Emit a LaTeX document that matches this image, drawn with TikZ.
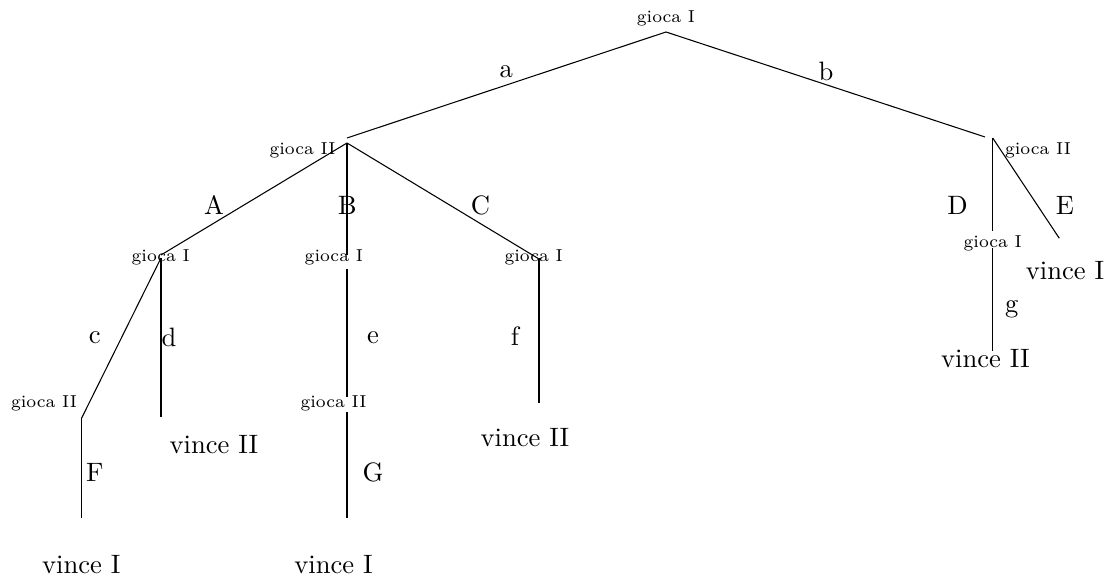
\documentclass[tikz,border=0pt]{standalone}
\begin{document}
\begin{tikzpicture}[x=0.376pt,y=-0.376pt,
  edge/.style={draw=black,line width=0.4pt},
  lab/.style={inner sep=0pt,anchor=base,font=\normalsize},
  pl/.style={inner sep=0pt,anchor=base,font=\fontsize{6.5}{8}\selectfont}]
\useasboundingbox (0,0) rectangle (1108,579);
% vertices
\coordinate (r) at (666,32);
\coordinate (aE) at (347,138);
\coordinate (bE) at (985,137);
\coordinate (n2) at (347,143);
\coordinate (nR) at (992.7,138);
\coordinate (AE) at (161,255);
\coordinate (BE) at (347,255);
\coordinate (CE) at (539,259);
\coordinate (nA) at (161,258);
\coordinate (cE) at (81.7,418);
\coordinate (dE) at (161,417);
\coordinate (eS) at (347,269);
\coordinate (eE) at (347,397);
\coordinate (fS) at (539,258);
\coordinate (fE) at (539,403);
\coordinate (FS) at (81.7,418);
\coordinate (FE) at (81.7,518);
\coordinate (GS) at (347,412);
\coordinate (GE) at (347,518);
\coordinate (DE) at (992.7,231);
\coordinate (EE) at (1059.3,238.3);
\coordinate (gS) at (992.7,248);
\coordinate (gE) at (992.7,351);
% player labels
\node[pl] (p0) at (666,23) {gioca I};
\node[pl] (p1) at (302.5,155) {gioca II};
\node[pl] (p2) at (1038,155) {gioca II};
\node[pl] (p3) at (160.7,261.5) {gioca I};
\node[pl] (p4) at (333.8,261.5) {gioca I};
\node[pl] (p5) at (533.6,261.5) {gioca I};
\node[pl] (p6) at (992.7,248) {gioca I};
\node[pl] (p7) at (44,407.7) {gioca II};
\node[pl] (p8) at (333.5,407.7) {gioca II};
% edges
\draw[edge] (r) -- (aE);
\draw[edge] (r) -- (bE);
\draw[edge] (n2) -- (AE);
\draw[edge] (n2) -- (BE);
\draw[edge] (n2) -- (CE);
\draw[edge] (nA) -- (cE);
\draw[edge] (nA) -- (dE);
\draw[edge] (eS) -- (eE);
\draw[edge] (fS) -- (fE);
\draw[edge] (FS) -- (FE);
\draw[edge] (GS) -- (GE);
\draw[edge] (nR) -- (DE);
\draw[edge] (nR) -- (EE);
\draw[edge] (gS) -- (gE);
% move labels
\node[lab] (la) at (506.3,78) {a};
\node[lab] (lb) at (826,81) {b};
\node[lab] (lA) at (214,215) {A};
\node[lab] (lB) at (347.4,215) {B};
\node[lab] (lC) at (480.4,215) {C};
\node[lab] (lD) at (957.5,215) {D};
\node[lab] (lE) at (1065,215) {E};
\node[lab] (lc) at (94.7,344) {c};
\node[lab] (ld) at (169,347) {d};
\node[lab] (le) at (373,344) {e};
\node[lab] (lf) at (515,346) {f};
\node[lab] (lg) at (1011.7,313) {g};
\node[lab] (lF) at (94.7,481.7) {F};
\node[lab] (lG) at (373,481.7) {G};
% outcomes
\node[lab] (o1) at (81.3,573.3) {vince I};
\node[lab] (o2) at (333.5,573.3) {vince I};
\node[lab] (o3) at (214,453.3) {vince II};
\node[lab] (o4) at (525,446.7) {vince II};
\node[lab] (o5) at (1065,280) {vince I};
\node[lab] (o6) at (985.5,367.3) {vince II};
\end{tikzpicture}
\end{document}
